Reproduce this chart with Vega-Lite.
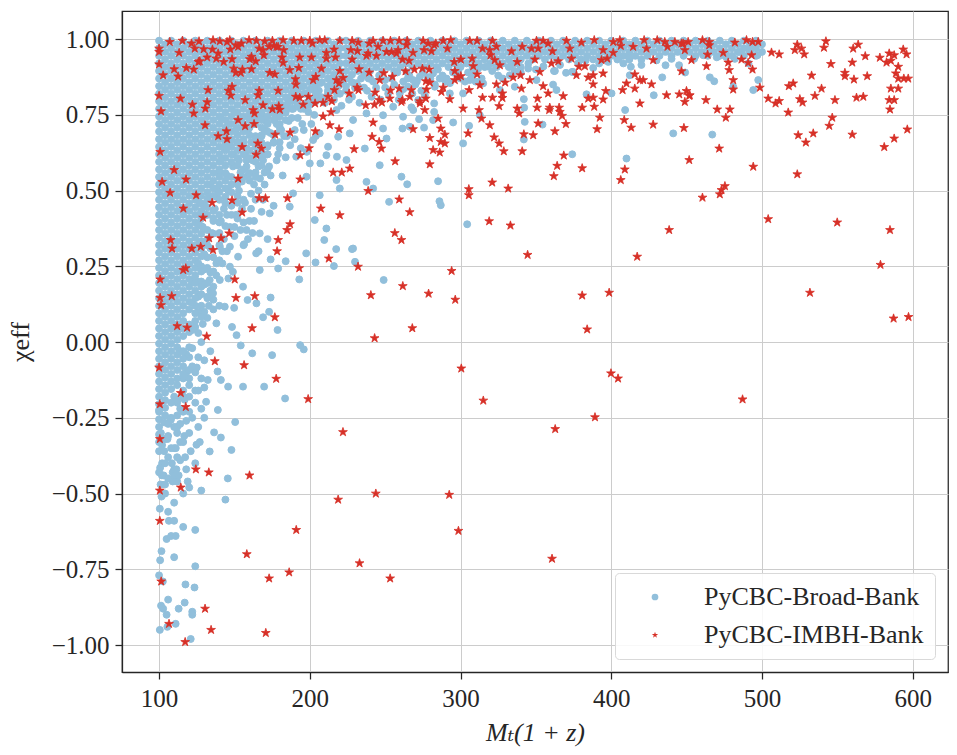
{
  "$schema": "https://vega.github.io/schema/vega-lite/v6.json",
  "width": 826,
  "height": 661,
  "autosize": "none",
  "padding": {"left": 122, "top": 11, "right": 9, "bottom": 83},
  "background": "white",
  "config": {
    "font": "Liberation Serif, DejaVu Serif, serif",
    "view": {"stroke": "#262626", "strokeWidth": 1.25},
    "axis": {
      "grid": true,
      "gridColor": "#cccccc",
      "gridWidth": 1,
      "domainColor": "#262626",
      "domainWidth": 1.25,
      "tickColor": "#262626",
      "tickWidth": 1.25,
      "tickSize": 7,
      "labelFont": "Liberation Serif, DejaVu Serif, serif",
      "labelFontSize": 25,
      "labelColor": "#262626",
      "titleFont": "Liberation Serif, DejaVu Serif, serif",
      "titleFontSize": 26,
      "titleFontWeight": "normal",
      "titleColor": "#262626"
    }
  },
  "datasets": {
    "broad": [
{"x":100,"y":0.995},{"x":100,"y":0.97},{"x":100,"y":0.945},{"x":100,"y":0.92},{"x":100,"y":0.895},{"x":100,"y":0.87},{"x":100,"y":0.845},{"x":100,"y":0.82},{"x":100,"y":0.795},{"x":100,"y":0.77},{"x":100,"y":0.745},{"x":100,"y":0.72},{"x":100,"y":0.695},{"x":100,"y":0.67},{"x":100,"y":0.645},{"x":100,"y":0.62},{"x":100,"y":0.595},{"x":100,"y":0.57},{"x":100,"y":0.545},{"x":100,"y":0.52},{"x":100,"y":0.495},{"x":100,"y":0.47},{"x":100,"y":0.445},{"x":100,"y":0.42},{"x":100,"y":0.395},{"x":100,"y":0.37},{"x":100,"y":0.345},{"x":100,"y":0.32},{"x":100,"y":0.295},{"x":100,"y":0.27},{"x":100,"y":0.245},{"x":100,"y":0.22},{"x":100,"y":0.195},{"x":100,"y":0.17},{"x":100,"y":0.145},{"x":100,"y":0.12},{"x":100,"y":0.095},{"x":100,"y":0.07},{"x":100,"y":0.045},{"x":100,"y":0.02},{"x":100,"y":-0.005},{"x":100,"y":-0.03},{"x":100,"y":-0.055},{"x":100,"y":-0.08},{"x":100,"y":-0.105},{"x":100,"y":-0.13},{"x":100,"y":-0.155},{"x":100,"y":-0.18},{"x":100,"y":-0.205},{"x":100,"y":-0.23},{"x":100,"y":-0.255},{"x":100,"y":-0.28},{"x":100,"y":-0.305},{"x":100,"y":-0.33},
{"x":104,"y":0.983},{"x":104,"y":0.958},{"x":104,"y":0.933},{"x":104,"y":0.908},{"x":104,"y":0.883},{"x":104,"y":0.858},{"x":104,"y":0.833},{"x":104,"y":0.808},{"x":104,"y":0.783},{"x":104,"y":0.758},{"x":104,"y":0.733},{"x":104,"y":0.708},{"x":104,"y":0.683},{"x":104,"y":0.658},{"x":104,"y":0.633},{"x":104,"y":0.608},{"x":104,"y":0.583},{"x":104,"y":0.558},{"x":104,"y":0.533},{"x":104,"y":0.508},{"x":104,"y":0.483},{"x":104,"y":0.458},{"x":104,"y":0.433},{"x":104,"y":0.408},{"x":104,"y":0.383},{"x":104,"y":0.358},{"x":104,"y":0.333},{"x":104,"y":0.308},{"x":104,"y":0.283},{"x":104,"y":0.258},{"x":104,"y":0.233},{"x":104,"y":0.208},{"x":104,"y":0.183},{"x":104,"y":0.158},{"x":104,"y":0.133},{"x":104,"y":0.108},{"x":104,"y":0.083},{"x":104,"y":0.058},{"x":104,"y":0.033},{"x":104,"y":0.008},{"x":104,"y":-0.017},{"x":104,"y":-0.042},{"x":104,"y":-0.067},{"x":104,"y":-0.092},{"x":104,"y":-0.117},{"x":104,"y":-0.142},{"x":104,"y":-0.167},{"x":104,"y":-0.192},{"x":104,"y":-0.217},{"x":104,"y":-0.242},
{"x":108,"y":0.995},{"x":108,"y":0.97},{"x":108,"y":0.945},{"x":108,"y":0.92},{"x":108,"y":0.895},{"x":108,"y":0.87},{"x":108,"y":0.845},{"x":108,"y":0.82},{"x":108,"y":0.795},{"x":108,"y":0.77},{"x":108,"y":0.745},{"x":108,"y":0.72},{"x":108,"y":0.695},{"x":108,"y":0.67},{"x":108,"y":0.645},{"x":108,"y":0.62},{"x":108,"y":0.595},{"x":108,"y":0.57},{"x":108,"y":0.545},{"x":108,"y":0.52},{"x":108,"y":0.495},{"x":108,"y":0.47},{"x":108,"y":0.445},{"x":108,"y":0.42},{"x":108,"y":0.395},{"x":108,"y":0.37},{"x":108,"y":0.345},{"x":108,"y":0.32},{"x":108,"y":0.295},{"x":108,"y":0.27},{"x":108,"y":0.245},{"x":108,"y":0.22},{"x":108,"y":0.195},{"x":108,"y":0.17},{"x":108,"y":0.145},{"x":108,"y":0.12},{"x":108,"y":0.095},{"x":108,"y":0.07},{"x":108,"y":0.045},{"x":108,"y":0.02},{"x":108,"y":-0.005},{"x":108,"y":-0.03},{"x":108,"y":-0.055},{"x":108,"y":-0.08},{"x":108,"y":-0.105},{"x":108,"y":-0.13},{"x":108,"y":-0.155},
{"x":112,"y":0.983},{"x":112,"y":0.958},{"x":112,"y":0.933},{"x":112,"y":0.908},{"x":112,"y":0.883},{"x":112,"y":0.858},{"x":112,"y":0.833},{"x":112,"y":0.808},{"x":112,"y":0.783},{"x":112,"y":0.758},{"x":112,"y":0.733},{"x":112,"y":0.708},{"x":112,"y":0.683},{"x":112,"y":0.658},{"x":112,"y":0.633},{"x":112,"y":0.608},{"x":112,"y":0.583},{"x":112,"y":0.558},{"x":112,"y":0.533},{"x":112,"y":0.508},{"x":112,"y":0.483},{"x":112,"y":0.458},{"x":112,"y":0.433},{"x":112,"y":0.408},{"x":112,"y":0.383},{"x":112,"y":0.358},{"x":112,"y":0.333},{"x":112,"y":0.308},{"x":112,"y":0.283},{"x":112,"y":0.258},{"x":112,"y":0.233},{"x":112,"y":0.208},{"x":112,"y":0.183},{"x":112,"y":0.158},{"x":112,"y":0.133},{"x":112,"y":0.108},{"x":112,"y":0.083},{"x":112,"y":0.058},{"x":112,"y":0.033},{"x":112,"y":0.008},{"x":112,"y":-0.017},{"x":112,"y":-0.042},{"x":112,"y":-0.067},
{"x":116,"y":0.995},{"x":116,"y":0.97},{"x":116,"y":0.945},{"x":116,"y":0.92},{"x":116,"y":0.895},{"x":116,"y":0.87},{"x":116,"y":0.845},{"x":116,"y":0.82},{"x":116,"y":0.795},{"x":116,"y":0.77},{"x":116,"y":0.745},{"x":116,"y":0.72},{"x":116,"y":0.695},{"x":116,"y":0.67},{"x":116,"y":0.645},{"x":116,"y":0.62},{"x":116,"y":0.595},{"x":116,"y":0.57},{"x":116,"y":0.545},{"x":116,"y":0.52},{"x":116,"y":0.495},{"x":116,"y":0.47},{"x":116,"y":0.445},{"x":116,"y":0.42},{"x":116,"y":0.395},{"x":116,"y":0.37},{"x":116,"y":0.345},{"x":116,"y":0.32},{"x":116,"y":0.295},{"x":116,"y":0.27},{"x":116,"y":0.245},{"x":116,"y":0.22},{"x":116,"y":0.195},{"x":116,"y":0.17},{"x":116,"y":0.145},{"x":116,"y":0.12},{"x":116,"y":0.095},{"x":116,"y":0.07},{"x":116,"y":0.045},{"x":116,"y":0.02},
{"x":120,"y":0.983},{"x":120,"y":0.958},{"x":120,"y":0.933},{"x":120,"y":0.908},{"x":120,"y":0.883},{"x":120,"y":0.858},{"x":120,"y":0.833},{"x":120,"y":0.808},{"x":120,"y":0.783},{"x":120,"y":0.758},{"x":120,"y":0.733},{"x":120,"y":0.708},{"x":120,"y":0.683},{"x":120,"y":0.658},{"x":120,"y":0.633},{"x":120,"y":0.608},{"x":120,"y":0.583},{"x":120,"y":0.558},{"x":120,"y":0.533},{"x":120,"y":0.508},{"x":120,"y":0.483},{"x":120,"y":0.458},{"x":120,"y":0.433},{"x":120,"y":0.408},{"x":120,"y":0.383},{"x":120,"y":0.358},{"x":120,"y":0.333},{"x":120,"y":0.308},{"x":120,"y":0.283},{"x":120,"y":0.258},{"x":120,"y":0.233},{"x":120,"y":0.208},{"x":120,"y":0.183},{"x":120,"y":0.158},{"x":120,"y":0.133},{"x":120,"y":0.108},
{"x":124,"y":0.995},{"x":124,"y":0.97},{"x":124,"y":0.945},{"x":124,"y":0.92},{"x":124,"y":0.895},{"x":124,"y":0.87},{"x":124,"y":0.845},{"x":124,"y":0.82},{"x":124,"y":0.795},{"x":124,"y":0.77},{"x":124,"y":0.745},{"x":124,"y":0.72},{"x":124,"y":0.695},{"x":124,"y":0.67},{"x":124,"y":0.645},{"x":124,"y":0.62},{"x":124,"y":0.595},{"x":124,"y":0.57},{"x":124,"y":0.545},{"x":124,"y":0.52},{"x":124,"y":0.495},{"x":124,"y":0.47},{"x":124,"y":0.445},{"x":124,"y":0.42},{"x":124,"y":0.395},{"x":124,"y":0.37},{"x":124,"y":0.345},{"x":124,"y":0.32},{"x":124,"y":0.295},{"x":124,"y":0.27},{"x":124,"y":0.245},{"x":124,"y":0.22},
{"x":128,"y":0.983},{"x":128,"y":0.958},{"x":128,"y":0.933},{"x":128,"y":0.908},{"x":128,"y":0.883},{"x":128,"y":0.858},{"x":128,"y":0.833},{"x":128,"y":0.808},{"x":128,"y":0.783},{"x":128,"y":0.758},{"x":128,"y":0.733},{"x":128,"y":0.708},{"x":128,"y":0.683},{"x":128,"y":0.658},{"x":128,"y":0.633},{"x":128,"y":0.608},{"x":128,"y":0.583},{"x":128,"y":0.558},{"x":128,"y":0.533},{"x":128,"y":0.508},{"x":128,"y":0.483},{"x":128,"y":0.458},{"x":128,"y":0.433},{"x":128,"y":0.408},{"x":128,"y":0.383},{"x":128,"y":0.358},
{"x":132,"y":0.995},{"x":132,"y":0.97},{"x":132,"y":0.945},{"x":132,"y":0.92},{"x":132,"y":0.895},{"x":132,"y":0.87},{"x":132,"y":0.845},{"x":132,"y":0.82},{"x":132,"y":0.795},{"x":132,"y":0.77},{"x":132,"y":0.745},{"x":132,"y":0.72},{"x":132,"y":0.695},{"x":132,"y":0.67},{"x":132,"y":0.645},{"x":132,"y":0.62},{"x":132,"y":0.595},{"x":132,"y":0.57},{"x":132,"y":0.545},{"x":132,"y":0.52},{"x":132,"y":0.495},{"x":132,"y":0.47},
{"x":136,"y":0.983},{"x":136,"y":0.958},{"x":136,"y":0.933},{"x":136,"y":0.908},{"x":136,"y":0.883},{"x":136,"y":0.858},{"x":136,"y":0.833},{"x":136,"y":0.808},{"x":136,"y":0.783},{"x":136,"y":0.758},{"x":136,"y":0.733},{"x":136,"y":0.708},{"x":136,"y":0.683},{"x":136,"y":0.658},{"x":136,"y":0.633},{"x":136,"y":0.608},{"x":136,"y":0.583},{"x":136,"y":0.558},{"x":136,"y":0.533},
{"x":140,"y":0.995},{"x":140,"y":0.97},{"x":140,"y":0.945},{"x":140,"y":0.92},{"x":140,"y":0.895},{"x":140,"y":0.87},{"x":140,"y":0.845},{"x":140,"y":0.82},{"x":140,"y":0.795},{"x":140,"y":0.77},{"x":140,"y":0.745},{"x":140,"y":0.72},{"x":140,"y":0.695},{"x":140,"y":0.67},{"x":140,"y":0.645},{"x":140,"y":0.62},{"x":140,"y":0.595},{"x":140,"y":0.57},
{"x":144,"y":0.983},{"x":144,"y":0.958},{"x":144,"y":0.933},{"x":144,"y":0.908},{"x":144,"y":0.883},{"x":144,"y":0.858},{"x":144,"y":0.833},{"x":144,"y":0.808},{"x":144,"y":0.783},{"x":144,"y":0.758},{"x":144,"y":0.733},{"x":144,"y":0.708},{"x":144,"y":0.683},{"x":144,"y":0.658},{"x":144,"y":0.633},{"x":144,"y":0.608},
{"x":148,"y":0.995},{"x":148,"y":0.97},{"x":148,"y":0.945},{"x":148,"y":0.92},{"x":148,"y":0.895},{"x":148,"y":0.87},{"x":148,"y":0.845},{"x":148,"y":0.82},{"x":148,"y":0.795},{"x":148,"y":0.77},{"x":148,"y":0.745},{"x":148,"y":0.72},{"x":148,"y":0.695},{"x":148,"y":0.67},{"x":148,"y":0.645},
{"x":152,"y":0.983},{"x":152,"y":0.958},{"x":152,"y":0.933},{"x":152,"y":0.908},{"x":152,"y":0.883},{"x":152,"y":0.858},{"x":152,"y":0.833},{"x":152,"y":0.808},{"x":152,"y":0.783},{"x":152,"y":0.758},{"x":152,"y":0.733},{"x":152,"y":0.708},{"x":152,"y":0.683},
{"x":156,"y":0.995},{"x":156,"y":0.97},{"x":156,"y":0.945},{"x":156,"y":0.92},{"x":156,"y":0.895},{"x":156,"y":0.87},{"x":156,"y":0.845},{"x":156,"y":0.82},{"x":156,"y":0.795},{"x":156,"y":0.77},{"x":156,"y":0.745},{"x":156,"y":0.72},
{"x":160,"y":0.983},{"x":160,"y":0.958},{"x":160,"y":0.933},{"x":160,"y":0.908},{"x":160,"y":0.883},{"x":160,"y":0.858},{"x":160,"y":0.833},{"x":160,"y":0.808},{"x":160,"y":0.783},{"x":160,"y":0.758},
{"x":164,"y":0.995},{"x":164,"y":0.97},{"x":164,"y":0.945},{"x":164,"y":0.92},{"x":164,"y":0.895},{"x":164,"y":0.87},{"x":164,"y":0.845},{"x":164,"y":0.82},{"x":164,"y":0.795},{"x":164,"y":0.77},
{"x":168,"y":0.983},{"x":168,"y":0.958},{"x":168,"y":0.933},{"x":168,"y":0.908},{"x":168,"y":0.883},{"x":168,"y":0.858},{"x":168,"y":0.833},{"x":168,"y":0.808},{"x":168,"y":0.783},
{"x":172,"y":0.995},{"x":172,"y":0.97},{"x":172,"y":0.945},{"x":172,"y":0.92},{"x":172,"y":0.895},{"x":172,"y":0.87},{"x":172,"y":0.845},{"x":172,"y":0.82},{"x":172,"y":0.795},
{"x":176,"y":0.983},{"x":176,"y":0.958},{"x":176,"y":0.933},{"x":176,"y":0.908},{"x":176,"y":0.883},{"x":176,"y":0.858},{"x":176,"y":0.833},{"x":176,"y":0.808},
{"x":180,"y":0.995},{"x":180,"y":0.97},{"x":180,"y":0.945},{"x":180,"y":0.92},{"x":180,"y":0.895},{"x":180,"y":0.87},{"x":180,"y":0.845},{"x":180,"y":0.82},
{"x":184,"y":0.983},{"x":184,"y":0.958},{"x":184,"y":0.933},{"x":184,"y":0.908},{"x":184,"y":0.883},{"x":184,"y":0.858},{"x":184,"y":0.833},
{"x":188,"y":0.995},{"x":188,"y":0.97},{"x":188,"y":0.945},{"x":188,"y":0.92},{"x":188,"y":0.895},{"x":188,"y":0.87},{"x":188,"y":0.845},
{"x":192,"y":0.983},{"x":192,"y":0.958},{"x":192,"y":0.933},{"x":192,"y":0.908},{"x":192,"y":0.883},{"x":192,"y":0.858},
{"x":196,"y":0.995},{"x":196,"y":0.97},{"x":196,"y":0.945},{"x":196,"y":0.92},{"x":196,"y":0.895},{"x":196,"y":0.87},
{"x":200,"y":0.983},{"x":200,"y":0.958},{"x":200,"y":0.933},{"x":200,"y":0.908},{"x":200,"y":0.883},{"x":200,"y":0.858},
{"x":204,"y":0.995},{"x":204,"y":0.97},{"x":204,"y":0.945},{"x":204,"y":0.92},{"x":204,"y":0.895},{"x":204,"y":0.87},
{"x":208,"y":0.983},{"x":208,"y":0.958},{"x":208,"y":0.933},{"x":208,"y":0.908},{"x":208,"y":0.883},
{"x":212,"y":0.995},{"x":212,"y":0.97},{"x":212,"y":0.945},{"x":212,"y":0.92},{"x":212,"y":0.895},
{"x":216,"y":0.983},{"x":216,"y":0.958},{"x":216,"y":0.933},{"x":216,"y":0.908},{"x":216,"y":0.883},
{"x":220,"y":0.995},{"x":220,"y":0.97},{"x":220,"y":0.945},{"x":220,"y":0.92},{"x":220,"y":0.895},
{"x":224,"y":0.995},{"x":224,"y":0.97},{"x":224,"y":0.945},{"x":224,"y":0.92},
{"x":228,"y":0.983},{"x":228,"y":0.958},{"x":228,"y":0.933},{"x":228,"y":0.908},
{"x":232,"y":0.995},{"x":232,"y":0.97},{"x":232,"y":0.945},{"x":232,"y":0.92},
{"x":236,"y":0.983},{"x":236,"y":0.958},{"x":236,"y":0.933},{"x":236,"y":0.908},
{"x":240,"y":0.995},{"x":240,"y":0.97},{"x":240,"y":0.945},{"x":240,"y":0.92},
{"x":244,"y":0.983},{"x":244,"y":0.958},{"x":244,"y":0.933},{"x":244,"y":0.908},
{"x":248,"y":0.995},{"x":248,"y":0.97},{"x":248,"y":0.945},{"x":248,"y":0.92},
{"x":252,"y":0.983},{"x":252,"y":0.958},{"x":252,"y":0.933},{"x":252,"y":0.908},
{"x":256,"y":0.995},{"x":256,"y":0.97},{"x":256,"y":0.945},{"x":256,"y":0.92},
{"x":260,"y":0.983},{"x":260,"y":0.958},{"x":260,"y":0.933},{"x":260,"y":0.908},
{"x":264,"y":0.995},{"x":264,"y":0.97},{"x":264,"y":0.945},{"x":264,"y":0.92},
{"x":268,"y":0.983},{"x":268,"y":0.958},{"x":268,"y":0.933},{"x":268,"y":0.908},
{"x":272,"y":0.995},{"x":272,"y":0.97},{"x":272,"y":0.945},{"x":272,"y":0.92},
{"x":276,"y":0.983},{"x":276,"y":0.958},{"x":276,"y":0.933},{"x":276,"y":0.908},
{"x":280,"y":0.995},{"x":280,"y":0.97},{"x":280,"y":0.945},{"x":280,"y":0.92},
{"x":284,"y":0.983},{"x":284,"y":0.958},{"x":284,"y":0.933},{"x":284,"y":0.908},
{"x":288,"y":0.995},{"x":288,"y":0.97},{"x":288,"y":0.945},{"x":288,"y":0.92},
{"x":292,"y":0.983},{"x":292,"y":0.958},{"x":292,"y":0.933},{"x":292,"y":0.908},
{"x":296,"y":0.995},{"x":296,"y":0.97},{"x":296,"y":0.945},{"x":296,"y":0.92},
{"x":300,"y":0.983},{"x":300,"y":0.958},{"x":300,"y":0.933},{"x":300,"y":0.908},
{"x":304,"y":0.995},{"x":304,"y":0.97},{"x":304,"y":0.945},{"x":304,"y":0.92},
{"x":308,"y":0.983},{"x":308,"y":0.958},{"x":308,"y":0.933},{"x":308,"y":0.908},
{"x":312,"y":0.995},{"x":312,"y":0.97},{"x":312,"y":0.945},{"x":312,"y":0.92},
{"x":316,"y":0.983},{"x":316,"y":0.958},{"x":316,"y":0.933},{"x":316,"y":0.908},
{"x":320,"y":0.995},{"x":320,"y":0.97},{"x":320,"y":0.945},{"x":320,"y":0.92},
{"x":324,"y":0.983},{"x":324,"y":0.958},{"x":324,"y":0.933},{"x":324,"y":0.908},
{"x":328,"y":0.995},{"x":328,"y":0.97},{"x":328,"y":0.945},{"x":328,"y":0.92},
{"x":332,"y":0.983},{"x":332,"y":0.958},{"x":332,"y":0.933},{"x":332,"y":0.908},
{"x":336,"y":0.995},{"x":336,"y":0.97},{"x":336,"y":0.945},{"x":336,"y":0.92},
{"x":340,"y":0.983},{"x":340,"y":0.958},{"x":340,"y":0.933},{"x":340,"y":0.908},
{"x":344,"y":0.995},{"x":344,"y":0.97},{"x":344,"y":0.945},
{"x":348,"y":0.983},{"x":348,"y":0.958},{"x":348,"y":0.933},
{"x":352,"y":0.995},{"x":352,"y":0.97},{"x":352,"y":0.945},
{"x":356,"y":0.983},{"x":356,"y":0.958},{"x":356,"y":0.933},
{"x":360,"y":0.995},{"x":360,"y":0.97},{"x":360,"y":0.945},
{"x":364,"y":0.983},{"x":364,"y":0.958},{"x":364,"y":0.933},
{"x":368,"y":0.995},{"x":368,"y":0.97},{"x":368,"y":0.945},
{"x":372,"y":0.983},{"x":372,"y":0.958},{"x":372,"y":0.933},
{"x":376,"y":0.995},{"x":376,"y":0.97},{"x":376,"y":0.945},
{"x":380,"y":0.983},{"x":380,"y":0.958},{"x":380,"y":0.933},
{"x":384,"y":0.995},{"x":384,"y":0.97},{"x":384,"y":0.945},
{"x":388,"y":0.983},{"x":388,"y":0.958},{"x":388,"y":0.933},
{"x":392,"y":0.995},{"x":392,"y":0.97},{"x":392,"y":0.945},
{"x":396,"y":0.983},{"x":396,"y":0.958},{"x":396,"y":0.933},
{"x":400,"y":0.995},{"x":400,"y":0.97},{"x":400,"y":0.945},
{"x":404,"y":0.983},{"x":404,"y":0.958},{"x":404,"y":0.933},
{"x":408,"y":0.995},{"x":408,"y":0.97},{"x":408,"y":0.945},
{"x":412,"y":0.983},{"x":412,"y":0.958},{"x":412,"y":0.933},
{"x":416,"y":0.995},{"x":416,"y":0.97},{"x":416,"y":0.945},
{"x":420,"y":0.983},{"x":420,"y":0.958},{"x":420,"y":0.933},
{"x":424,"y":0.995},{"x":424,"y":0.97},{"x":424,"y":0.945},
{"x":428,"y":0.983},{"x":428,"y":0.958},
{"x":432,"y":0.995},{"x":432,"y":0.97},{"x":432,"y":0.945},
{"x":436,"y":0.983},{"x":436,"y":0.958},
{"x":440,"y":0.995},{"x":440,"y":0.97},{"x":440,"y":0.945},
{"x":444,"y":0.983},{"x":444,"y":0.958},
{"x":448,"y":0.995},{"x":448,"y":0.97},{"x":448,"y":0.945},
{"x":452,"y":0.983},{"x":452,"y":0.958},
{"x":456,"y":0.995},{"x":456,"y":0.97},{"x":456,"y":0.945},
{"x":460,"y":0.983},{"x":460,"y":0.958},
{"x":464,"y":0.995},{"x":464,"y":0.97},{"x":464,"y":0.945},
{"x":468,"y":0.983},{"x":468,"y":0.958},
{"x":472,"y":0.995},{"x":472,"y":0.97},{"x":472,"y":0.945},
{"x":476,"y":0.983},{"x":476,"y":0.958},
{"x":480,"y":0.995},{"x":480,"y":0.97},{"x":480,"y":0.945},
{"x":484,"y":0.983},{"x":484,"y":0.958},
{"x":488,"y":0.995},{"x":488,"y":0.97},{"x":488,"y":0.945},
{"x":492,"y":0.983},{"x":492,"y":0.958},
{"x":496,"y":0.995},{"x":496,"y":0.97},{"x":496,"y":0.945},
{"x":500,"y":0.983},{"x":500,"y":0.958},
{"x":152,"y":0.66},{"x":156,"y":0.7},{"x":158,"y":0.64},{"x":162,"y":0.72},{"x":164,"y":0.68},{"x":167,"y":0.74},{"x":170,"y":0.7},{"x":172,"y":0.65},{"x":175,"y":0.76},{"x":178,"y":0.72},{"x":181,"y":0.7},{"x":185,"y":0.78},{"x":188,"y":0.74},{"x":190,"y":0.8},{"x":194,"y":0.77},{"x":197,"y":0.82},{"x":200,"y":0.8},{"x":203,"y":0.75},{"x":206,"y":0.83},{"x":210,"y":0.79},{"x":214,"y":0.85},{"x":218,"y":0.82},{"x":222,"y":0.86},{"x":226,"y":0.8},{"x":230,"y":0.84},{"x":234,"y":0.87},{"x":238,"y":0.83},{"x":242,"y":0.86},{"x":246,"y":0.88},{"x":250,"y":0.84},{"x":254,"y":0.87},{"x":258,"y":0.89},{"x":262,"y":0.86},{"x":266,"y":0.88},{"x":270,"y":0.85},{"x":275,"y":0.89},{"x":280,"y":0.87},{"x":285,"y":0.9},{"x":290,"y":0.86},{"x":295,"y":0.89},{"x":300,"y":0.87},{"x":305,"y":0.89},{"x":310,"y":0.86},{"x":318,"y":0.91},{"x":325,"y":0.88},{"x":333,"y":0.91},{"x":340,"y":0.89},{"x":350,"y":0.9},{"x":362,"y":0.895},{"x":370,"y":0.889},{"x":374,"y":0.892},{"x":383,"y":0.93},{"x":392,"y":0.92},{"x":405,"y":0.936},{"x":412,"y":0.939},{"x":413,"y":0.909},{"x":436,"y":0.914},{"x":445,"y":0.914},{"x":449,"y":0.89},{"x":461,"y":0.947},{"x":476,"y":0.942},{"x":485,"y":0.958},{"x":492,"y":0.964},{"x":497,"y":0.947},{"x":491,"y":0.92},
{"x":130,"y":0.45},{"x":134,"y":0.52},{"x":138,"y":0.48},{"x":140,"y":0.56},{"x":143,"y":0.44},{"x":146,"y":0.5},{"x":149,"y":0.58},{"x":152,"y":0.46},{"x":155,"y":0.53},{"x":158,"y":0.6},{"x":161,"y":0.49},{"x":164,"y":0.56},{"x":167,"y":0.62},{"x":170,"y":0.52},{"x":173,"y":0.58},{"x":176,"y":0.45},{"x":179,"y":0.62},{"x":182,"y":0.55},{"x":136,"y":0.4},{"x":140,"y":0.36},{"x":145,"y":0.42},{"x":150,"y":0.38},{"x":155,"y":0.44},{"x":160,"y":0.4},{"x":164,"y":0.47},{"x":168,"y":0.43},{"x":132,"y":0.34},{"x":136,"y":0.28},{"x":140,"y":0.32},{"x":145,"y":0.3},{"x":150,"y":0.35},{"x":156,"y":0.32},{"x":162,"y":0.36},{"x":166,"y":0.3},{"x":172,"y":0.34},{"x":126,"y":0.2},{"x":130,"y":0.24},{"x":134,"y":0.17},{"x":138,"y":0.22},{"x":142,"y":0.26},{"x":146,"y":0.21},{"x":128,"y":0.12},{"x":132,"y":0.08},{"x":136,"y":0.14},{"x":124,"y":0.05},{"x":128,"y":0.0},{"x":120,"y":-0.05},{"x":124,"y":-0.1},{"x":130,"y":-0.06},{"x":116,"y":-0.12},{"x":120,"y":-0.18},{"x":114,"y":-0.22},{"x":118,"y":-0.26},{"x":112,"y":-0.3},{"x":108,"y":-0.25},{"x":104,"y":-0.32},{"x":110,"y":-0.35},{"x":116,"y":-0.33},{"x":106,"y":-0.38},{"x":102,"y":-0.4},{"x":100,"y":-0.36},{"x":124,"y":0.12},{"x":124,"y":0.17},{"x":128,"y":0.25},{"x":128,"y":0.2},{"x":132,"y":0.28},{"x":132,"y":0.15},{"x":130,"y":0.1},{"x":126,"y":0.03},
{"x":156.4,"y":0.323},{"x":164.4,"y":0.293},{"x":174,"y":0.273},{"x":184,"y":0.267},{"x":197.6,"y":0.293},{"x":203.8,"y":0.263},{"x":216,"y":0.251},{"x":217.5,"y":0.307},{"x":228,"y":0.307},{"x":230,"y":0.265},{"x":209.6,"y":0.337},{"x":179,"y":0.243},{"x":166.8,"y":0.238},{"x":193,"y":0.207},{"x":249,"y":0.205},{"x":174,"y":0.147},{"x":169,"y":0.082},{"x":178.6,"y":0.04},{"x":173,"y":0.1},{"x":193.6,"y":-0.01},{"x":196,"y":-0.024},{"x":175,"y":-0.043},{"x":161.8,"y":-0.037},{"x":154.2,"y":-0.011},{"x":149.8,"y":0.113},{"x":155.7,"y":-0.147},{"x":145.8,"y":-0.147},{"x":169.7,"y":-0.147},{"x":183.6,"y":-0.186},{"x":139,"y":-0.224},{"x":150.5,"y":-0.264},{"x":131.2,"y":-0.197},{"x":141,"y":-0.315},{"x":148,"y":-0.356},{"x":136.5,"y":-0.298},{"x":124.8,"y":-0.339},{"x":133.6,"y":-0.361},{"x":145.6,"y":-0.45},{"x":138.8,"y":-0.097},{"x":141,"y":-0.125},{"x":132.3,"y":-0.125},{"x":125,"y":-0.084},{"x":148.4,"y":0.05},{"x":151.4,"y":0.023},{"x":140.3,"y":0.315},{"x":147,"y":0.315},{"x":152.4,"y":0.282},{"x":147,"y":0.249},{"x":149,"y":0.232},{"x":155.7,"y":0.183},{"x":158.7,"y":0.139},{"x":164.6,"y":0.128},{"x":143.6,"y":0.117},{"x":138,"y":0.062},{"x":135.8,"y":0.161},{"x":140.3,"y":0.205},{"x":133.6,"y":0.205},
{"x":100,"y":-0.224},{"x":103.4,"y":-0.265},{"x":107.8,"y":-0.257},{"x":112,"y":-0.28},{"x":101.2,"y":-0.3},{"x":105.6,"y":-0.32},{"x":111.1,"y":-0.35},{"x":116.7,"y":-0.31},{"x":103.4,"y":-0.36},{"x":100.7,"y":-0.415},{"x":108.5,"y":-0.4},{"x":114,"y":-0.39},{"x":117.3,"y":-0.38},{"x":101.9,"y":-0.44},{"x":109.6,"y":-0.45},{"x":119,"y":-0.46},{"x":120,"y":-0.12},{"x":124,"y":-0.16},{"x":128,"y":-0.22},{"x":122,"y":-0.25},{"x":126,"y":-0.28},{"x":120,"y":-0.3},{"x":112,"y":-0.12},{"x":116,"y":-0.08},
{"x":100,"y":-0.43},{"x":101,"y":-0.47},{"x":103,"y":-0.44},{"x":109,"y":-0.43},{"x":111.5,"y":-0.42},{"x":109,"y":-0.46},{"x":112,"y":-0.46},{"x":120,"y":-0.48},{"x":128,"y":-0.49},{"x":101.6,"y":-0.51},{"x":104,"y":-0.5},{"x":110,"y":-0.53},{"x":100.5,"y":-0.55},{"x":106,"y":-0.56},{"x":144,"y":-0.52},{"x":106.5,"y":-0.59},{"x":110,"y":-0.59},{"x":116,"y":-0.61},{"x":124,"y":-0.62},{"x":105,"y":-0.65},{"x":108,"y":-0.64},{"x":111,"y":-0.64},{"x":101.6,"y":-0.69},{"x":100.7,"y":-0.72},{"x":110,"y":-0.71},{"x":124,"y":-0.74},{"x":100,"y":-0.77},{"x":102.5,"y":-0.79},{"x":117.5,"y":-0.8},{"x":123.5,"y":-0.81},{"x":106,"y":-0.85},{"x":101.3,"y":-0.87},{"x":102.7,"y":-0.88},{"x":117,"y":-0.86},{"x":113,"y":-0.88},{"x":122,"y":-0.89},{"x":122,"y":-0.9},{"x":105,"y":-0.9},{"x":111,"y":-0.93},{"x":105.5,"y":-0.94},{"x":100.5,"y":-0.95},{"x":121,"y":-0.98},
{"x":261.5,"y":0.705},{"x":266.3,"y":0.711},{"x":275.8,"y":0.708},{"x":282.5,"y":0.788},{"x":282.5,"y":0.76},{"x":281.8,"y":0.733},{"x":272.5,"y":0.736},{"x":267.4,"y":0.775},{"x":295.1,"y":0.725},{"x":305.7,"y":0.714},{"x":301.7,"y":0.656},{"x":312.8,"y":0.749},{"x":342.6,"y":0.727},{"x":342,"y":0.669},{"x":342,"y":0.802},{"x":342.2,"y":0.774},{"x":354.4,"y":0.718},{"x":374.1,"y":0.62},{"x":362.6,"y":0.895},{"x":361.4,"y":0.85},{"x":363.7,"y":0.832},{"x":383.6,"y":0.818},{"x":400.2,"y":0.821},{"x":412.3,"y":0.881},{"x":409.2,"y":0.766},{"x":410.1,"y":0.606},{"x":428.2,"y":0.815},{"x":433.8,"y":0.874},{"x":441.1,"y":0.689},{"x":260.8,"y":0.546},{"x":264.6,"y":0.521},{"x":285.1,"y":0.531},{"x":286.9,"y":0.452},{"x":286,"y":0.465},{"x":304.4,"y":0.389},{"x":264.1,"y":0.892},{"x":268.5,"y":0.865},{"x":273,"y":0.876},{"x":265.2,"y":0.843},{"x":259.7,"y":0.821},{"x":271.9,"y":0.799},{"x":276.3,"y":0.815},{"x":282.9,"y":0.843},{"x":286.2,"y":0.87},{"x":290.7,"y":0.87},{"x":292.9,"y":0.821},{"x":301.7,"y":0.821},{"x":306.1,"y":0.865},{"x":307.3,"y":0.881},{"x":311.7,"y":0.903},{"x":332.7,"y":0.881},{"x":336,"y":0.843},{"x":344.9,"y":0.903},{"x":350.4,"y":0.865},{"x":315,"y":0.854},{"x":326.1,"y":0.832},{"x":298.4,"y":0.898},{"x":281.8,"y":0.887},{"x":374.7,"y":0.892},{"x":465.4,"y":0.874},{"x":468.3,"y":0.861},{"x":480.9,"y":0.843},{"x":494.2,"y":0.832},{"x":497.5,"y":0.865},{"x":467,"y":0.685},
{"x":191,"y":0.612},{"x":198,"y":0.628},{"x":200,"y":0.59},{"x":207,"y":0.59},{"x":211,"y":0.617},{"x":218,"y":0.612},{"x":226.5,"y":0.689},{"x":236.5,"y":0.639},{"x":237.6,"y":0.529},{"x":242,"y":0.507},{"x":246.4,"y":0.584},{"x":252.6,"y":0.463},{"x":224.3,"y":0.601},{"x":217.7,"y":0.535},{"x":219.9,"y":0.507},{"x":206.6,"y":0.485},{"x":211,"y":0.375},{"x":203.3,"y":0.403},{"x":188.9,"y":0.491},{"x":186.7,"y":0.447},{"x":173.4,"y":0.425},{"x":166.8,"y":0.359},{"x":158,"y":0.37},{"x":228.7,"y":0.309},{"x":217.7,"y":0.766},{"x":228.7,"y":0.733},{"x":237.6,"y":0.755},{"x":248.6,"y":0.749},{"x":248.6,"y":0.705},{"x":255.3,"y":0.777},{"x":261.9,"y":0.744},{"x":268.6,"y":0.766},{"x":250.9,"y":0.672},{"x":218.8,"y":0.678},{"x":206.6,"y":0.689},{"x":202.2,"y":0.667},{"x":212.1,"y":0.645},{"x":197.8,"y":0.546},{"x":185,"y":0.68},{"x":190,"y":0.7},{"x":195,"y":0.72},{"x":180,"y":0.66},
{"x":141,"y":0.74},{"x":142,"y":0.69},{"x":143,"y":0.64},{"x":141,"y":0.6},{"x":145,"y":0.55},{"x":146,"y":0.72},{"x":147,"y":0.66},{"x":149,"y":0.62},{"x":150,"y":0.76},{"x":151,"y":0.7},{"x":153,"y":0.6},{"x":154,"y":0.56},{"x":155,"y":0.74},{"x":156,"y":0.66},{"x":157,"y":0.62},{"x":159,"y":0.7},{"x":159,"y":0.55},{"x":160,"y":0.74},{"x":161,"y":0.66},{"x":162,"y":0.6},{"x":163,"y":0.52},{"x":164,"y":0.72},{"x":165,"y":0.64},{"x":166,"y":0.58},{"x":168,"y":0.75},{"x":168,"y":0.68},{"x":169,"y":0.6},{"x":170,"y":0.56},{"x":171,"y":0.73},{"x":172,"y":0.62},{"x":174,"y":0.69},{"x":174,"y":0.55},{"x":176,"y":0.66},{"x":177,"y":0.74},{"x":178,"y":0.6},{"x":180,"y":0.71},{"x":180,"y":0.64},{"x":182,"y":0.76},{"x":183,"y":0.68},{"x":184,"y":0.61},{"x":186,"y":0.73},{"x":187,"y":0.65},{"x":189,"y":0.77},{"x":190,"y":0.67},{"x":192,"y":0.74},{"x":194,"y":0.64},{"x":196,"y":0.7},{"x":199,"y":0.76},{"x":201,"y":0.72},{"x":204,"y":0.68},{"x":145,"y":0.64},{"x":152,"y":0.52},{"x":158,"y":0.58},{"x":167,"y":0.54},
{"x":186,"y":0.8},{"x":189,"y":0.83},{"x":192,"y":0.79},{"x":195,"y":0.845},{"x":198,"y":0.79},{"x":201,"y":0.835},{"x":204,"y":0.81},{"x":207,"y":0.855},{"x":209,"y":0.8},{"x":212,"y":0.83},{"x":215,"y":0.87},{"x":216,"y":0.8},{"x":219,"y":0.845},{"x":221,"y":0.78},{"x":224,"y":0.83},{"x":226,"y":0.87},{"x":228,"y":0.81},{"x":231,"y":0.855},{"x":233,"y":0.79},{"x":236,"y":0.84},{"x":239,"y":0.87},{"x":241,"y":0.81},{"x":244,"y":0.84},{"x":247,"y":0.8},{"x":250,"y":0.865},{"x":252,"y":0.82},{"x":256,"y":0.85},{"x":259,"y":0.8},{"x":262,"y":0.835},{"x":265,"y":0.87},{"x":268,"y":0.82},{"x":271,"y":0.86},{"x":274,"y":0.83},{"x":278,"y":0.875},{"x":283,"y":0.85},{"x":288,"y":0.88},{"x":293,"y":0.855},{"x":298,"y":0.88},{"x":303,"y":0.86},{"x":309,"y":0.89},{"x":314,"y":0.87},{"x":321,"y":0.895},{"x":328,"y":0.87},{"x":336,"y":0.895},{"x":345,"y":0.92},{"x":355,"y":0.91},{"x":366,"y":0.915},{"x":378,"y":0.92},{"x":388,"y":0.905},{"x":398,"y":0.925},{"x":408,"y":0.92},{"x":420,"y":0.915},{"x":430,"y":0.93},{"x":440,"y":0.935},{"x":455,"y":0.935},{"x":470,"y":0.94},{"x":482,"y":0.935},
{"x":127,"y":0.46},{"x":129,"y":0.38},{"x":131,"y":0.42},{"x":133,"y":0.48},{"x":135,"y":0.36},{"x":137,"y":0.44},{"x":139,"y":0.5},{"x":141,"y":0.4},{"x":143,"y":0.34},{"x":144,"y":0.48},{"x":147,"y":0.38},{"x":148,"y":0.45},{"x":151,"y":0.42},{"x":153,"y":0.5},{"x":154,"y":0.37},{"x":157,"y":0.46},{"x":159,"y":0.34},{"x":161,"y":0.44},{"x":163,"y":0.4},{"x":166,"y":0.5},{"x":169,"y":0.47},{"x":127,"y":0.33},{"x":130,"y":0.29},{"x":134,"y":0.31},{"x":138,"y":0.26},{"x":142,"y":0.3},{"x":126,"y":0.39},{"x":128,"y":0.43},
{"x":102,"y":-0.34},{"x":106,"y":-0.31},{"x":104,"y":-0.4},{"x":108,"y":-0.35},{"x":112,"y":-0.38},{"x":114,"y":-0.33},{"x":110,"y":-0.42},{"x":106,"y":-0.45},{"x":113,"y":-0.44},{"x":118,"y":-0.42},{"x":121,"y":-0.36},{"x":124,"y":-0.4},{"x":127,"y":-0.33},{"x":104,"y":-0.47},{"x":116,"y":-0.5},
{"x":114,"y":-0.03},{"x":118,"y":-0.04},{"x":122,"y":-0.02},{"x":116,"y":-0.16},{"x":118,"y":-0.1},{"x":122,"y":-0.08},{"x":126,"y":-0.05},{"x":124,"y":-0.2},{"x":128,"y":-0.12},{"x":120,"y":-0.23},{"x":126,"y":-0.16},{"x":130,"y":-0.25},{"x":114,"y":-0.27},{"x":117,"y":-0.19},{"x":112,"y":-0.2},{"x":110,"y":-0.18},{"x":110,"y":-0.28},{"x":106,"y":-0.27},{"x":108,"y":-0.2},{"x":134,"y":-0.03},{"x":130,"y":-0.15},
{"x":122,"y":0.13},{"x":126,"y":0.1},{"x":122,"y":0.2},{"x":126,"y":0.26},{"x":130,"y":0.19},{"x":134,"y":0.23},{"x":126,"y":0.15},{"x":129,"y":0.06},{"x":133,"y":0.12},{"x":122,"y":0.04},
{"x":152,"y":0.658},{"x":152,"y":0.633},{"x":156,"y":0.695},{"x":156,"y":0.67},{"x":156,"y":0.645},{"x":160,"y":0.733},{"x":160,"y":0.708},{"x":160,"y":0.683},{"x":160,"y":0.633},{"x":164,"y":0.745},{"x":164,"y":0.72},{"x":164,"y":0.67},{"x":164,"y":0.645},{"x":168,"y":0.758},{"x":168,"y":0.733},{"x":168,"y":0.708},{"x":168,"y":0.683},{"x":168,"y":0.658},{"x":168,"y":0.633},{"x":172,"y":0.77},{"x":172,"y":0.745},{"x":172,"y":0.72},{"x":172,"y":0.695},{"x":172,"y":0.645},{"x":176,"y":0.783},{"x":176,"y":0.758},{"x":176,"y":0.733},{"x":176,"y":0.683},{"x":176,"y":0.658},{"x":180,"y":0.795},{"x":180,"y":0.77},{"x":180,"y":0.745},{"x":180,"y":0.72},{"x":180,"y":0.695},{"x":184,"y":0.808},{"x":184,"y":0.783},{"x":184,"y":0.758},{"x":184,"y":0.733},
{"x":140,"y":0.545},{"x":140,"y":0.52},{"x":144,"y":0.583},{"x":144,"y":0.558},{"x":144,"y":0.533},{"x":148,"y":0.62},{"x":148,"y":0.595},{"x":148,"y":0.545},{"x":148,"y":0.52},{"x":152,"y":0.608},{"x":152,"y":0.583},{"x":152,"y":0.533},{"x":156,"y":0.62},{"x":156,"y":0.57},{"x":156,"y":0.545},{"x":160,"y":0.608},{"x":160,"y":0.558},{"x":160,"y":0.533},{"x":164,"y":0.62},{"x":164,"y":0.595},{"x":164,"y":0.545},{"x":168,"y":0.608},{"x":168,"y":0.583},{"x":172,"y":0.62},{"x":172,"y":0.57},
{"x":188,"y":0.82},{"x":188,"y":0.795},{"x":188,"y":0.77},{"x":192,"y":0.833},{"x":192,"y":0.808},{"x":192,"y":0.783},{"x":196,"y":0.845},{"x":196,"y":0.82},{"x":196,"y":0.77},{"x":200,"y":0.833},{"x":200,"y":0.783},{"x":204,"y":0.845},{"x":204,"y":0.82},{"x":204,"y":0.795},{"x":208,"y":0.858},{"x":208,"y":0.808},{"x":212,"y":0.87},{"x":212,"y":0.845},{"x":212,"y":0.82},{"x":216,"y":0.858},{"x":216,"y":0.833},{"x":220,"y":0.87},{"x":220,"y":0.82},{"x":224,"y":0.895},{"x":224,"y":0.87},{"x":224,"y":0.845},{"x":228,"y":0.883},{"x":228,"y":0.858},{"x":232,"y":0.895},{"x":232,"y":0.845},{"x":236,"y":0.883},{"x":240,"y":0.895},{"x":240,"y":0.87},{"x":248,"y":0.895},{"x":256,"y":0.895},
{"x":128,"y":0.333},{"x":128,"y":0.308},{"x":132,"y":0.445},{"x":132,"y":0.42},{"x":132,"y":0.37},{"x":132,"y":0.32},{"x":136,"y":0.508},{"x":136,"y":0.483},{"x":136,"y":0.433},{"x":136,"y":0.408},{"x":136,"y":0.358},{"x":140,"y":0.495},{"x":140,"y":0.47},{"x":140,"y":0.42},{"x":140,"y":0.395},{"x":144,"y":0.508},{"x":144,"y":0.458},{"x":144,"y":0.383},{"x":148,"y":0.495},{"x":148,"y":0.42},{"x":152,"y":0.483},{"x":152,"y":0.408},{"x":156,"y":0.47},{"x":156,"y":0.395},
{"x":124,"y":0.195},{"x":124,"y":0.145},{"x":124,"y":0.095},{"x":124,"y":0.07},{"x":128,"y":0.283},{"x":128,"y":0.233},{"x":128,"y":0.183},{"x":128,"y":0.158},{"x":128,"y":0.083},{"x":132,"y":0.245},{"x":132,"y":0.195},{"x":132,"y":0.145},{"x":136,"y":0.233},{"x":136,"y":0.183},{"x":136,"y":0.108},{"x":140,"y":0.27},{"x":140,"y":0.12},
{"x":112,"y":-0.092},{"x":112,"y":-0.142},{"x":112,"y":-0.192},{"x":112,"y":-0.242},{"x":116,"y":-0.03},{"x":116,"y":-0.055},{"x":116,"y":-0.105},{"x":116,"y":-0.18},{"x":116,"y":-0.23},{"x":120,"y":0.058},{"x":120,"y":0.033},{"x":120,"y":-0.017},{"x":120,"y":-0.092},{"x":120,"y":-0.142}
    ],
    "imbh": [
{"x":100,"y":0.969},{"x":107.1,"y":0.991},{"x":115.5,"y":0.995},{"x":121.5,"y":0.986},{"x":126.5,"y":0.993},{"x":129.6,"y":0.967},{"x":135.8,"y":0.997},{"x":140.3,"y":0.993},{"x":145.1,"y":0.991},{"x":146.9,"y":0.997},{"x":150.9,"y":0.98},{"x":154.6,"y":0.986},{"x":159.7,"y":0.997},{"x":164.6,"y":0.995},{"x":166.4,"y":0.969},{"x":170.1,"y":0.993},{"x":175.2,"y":0.995},{"x":176.1,"y":0.978},{"x":182.3,"y":0.997},{"x":179,"y":0.975},{"x":189.4,"y":0.995},{"x":194.4,"y":0.995},{"x":200,"y":0.995},{"x":201.7,"y":0.986},{"x":206.6,"y":0.997},{"x":209.9,"y":0.997},{"x":219.9,"y":0.995},{"x":228.1,"y":0.995},{"x":232.1,"y":0.989},{"x":239.4,"y":0.986},{"x":242,"y":0.995},{"x":248.6,"y":0.995},{"x":253.5,"y":0.995},{"x":259.3,"y":0.995},{"x":264.6,"y":0.995},{"x":264.1,"y":0.98},{"x":268.5,"y":0.955},
{"x":100,"y":0.958},{"x":113.3,"y":0.955},{"x":127,"y":0.927},{"x":131.9,"y":0.94},{"x":135.4,"y":0.966},{"x":139.2,"y":0.953},{"x":138,"y":0.936},{"x":142.9,"y":0.925},{"x":148.4,"y":0.934},{"x":147.3,"y":0.966},{"x":152.4,"y":0.975},{"x":160.2,"y":0.934},{"x":161.3,"y":0.942},{"x":164.1,"y":0.927},{"x":169,"y":0.964},{"x":169.5,"y":0.947},{"x":173,"y":0.975},{"x":177.9,"y":0.975},{"x":181.6,"y":0.94},{"x":182.3,"y":0.922},{"x":182.7,"y":0.964},{"x":193.3,"y":0.94},{"x":201.1,"y":0.94},{"x":211,"y":0.955},{"x":211,"y":0.936},{"x":216.1,"y":0.966},{"x":217,"y":0.94},{"x":227.2,"y":0.964},{"x":228.1,"y":0.933},{"x":231.6,"y":0.961},{"x":237.6,"y":0.945},{"x":238.7,"y":0.953},{"x":244.2,"y":0.945},{"x":245.3,"y":0.975},{"x":250.9,"y":0.958},{"x":254.2,"y":0.958},{"x":258.6,"y":0.964},{"x":261.5,"y":0.933},{"x":265.9,"y":0.929},{"x":257.5,"y":0.953},
{"x":100,"y":0.917},{"x":102.7,"y":0.881},{"x":110,"y":0.901},{"x":112.6,"y":0.877},{"x":118.1,"y":0.905},{"x":123,"y":0.9},{"x":123.7,"y":0.969},{"x":126.1,"y":0.925},{"x":149.5,"y":0.903},{"x":150.9,"y":0.889},{"x":154.2,"y":0.889},{"x":155.3,"y":0.9},{"x":161.3,"y":0.901},{"x":173.4,"y":0.889},{"x":176.8,"y":0.884},{"x":186.7,"y":0.898},{"x":192.7,"y":0.905},{"x":190.5,"y":0.868},{"x":190.7,"y":0.85},{"x":202.2,"y":0.865},{"x":204,"y":0.876},{"x":207.7,"y":0.903},{"x":217.7,"y":0.865},{"x":219.9,"y":0.895},{"x":222.1,"y":0.872},{"x":232.7,"y":0.901},{"x":239.4,"y":0.89},{"x":246.4,"y":0.865},{"x":249.1,"y":0.888},{"x":254.8,"y":0.876},{"x":263.5,"y":0.894},{"x":269.4,"y":0.9},
{"x":100,"y":0.813},{"x":101.3,"y":0.762},{"x":114.2,"y":0.804},{"x":122.1,"y":0.784},{"x":123,"y":0.755},{"x":130.7,"y":0.771},{"x":132.5,"y":0.832},{"x":131.9,"y":0.792},{"x":146,"y":0.83},{"x":148.4,"y":0.843},{"x":147.6,"y":0.814},{"x":157.1,"y":0.799},{"x":162.4,"y":0.766},{"x":163.3,"y":0.755},{"x":165.7,"y":0.815},{"x":166.4,"y":0.83},{"x":169,"y":0.782},{"x":175.2,"y":0.769},{"x":179.4,"y":0.779},{"x":179,"y":0.83},{"x":180.1,"y":0.767},{"x":190.7,"y":0.81},{"x":193.3,"y":0.807},{"x":195.6,"y":0.784},{"x":199.1,"y":0.81},{"x":203.5,"y":0.788},{"x":208.8,"y":0.79},{"x":212.1,"y":0.81},{"x":214.6,"y":0.795},{"x":216.3,"y":0.832},{"x":219.4,"y":0.854},{"x":226.1,"y":0.821},{"x":231.4,"y":0.84},{"x":232.3,"y":0.832},{"x":237.1,"y":0.782},{"x":242.9,"y":0.784},{"x":243.3,"y":0.824},{"x":247.8,"y":0.791},{"x":246,"y":0.799},{"x":253.1,"y":0.804},{"x":253.5,"y":0.831},{"x":259.3,"y":0.837},{"x":260.8,"y":0.793},{"x":261.5,"y":0.799},{"x":267.4,"y":0.832},{"x":266.3,"y":0.81},{"x":273,"y":0.795},
{"x":100.7,"y":0.628},{"x":130.5,"y":0.716},{"x":139.2,"y":0.68},{"x":144.7,"y":0.696},{"x":145.1,"y":0.67},{"x":152.4,"y":0.733},{"x":157.1,"y":0.713},{"x":163,"y":0.72},{"x":165.5,"y":0.656},{"x":167.9,"y":0.639},{"x":164.4,"y":0.619},{"x":155.1,"y":0.644},{"x":177,"y":0.685},{"x":186.9,"y":0.692},{"x":203.7,"y":0.696},{"x":208.8,"y":0.745},{"x":213.3,"y":0.716},{"x":214.1,"y":0.759},{"x":219.4,"y":0.703},{"x":229.4,"y":0.637},{"x":241.3,"y":0.678},{"x":242,"y":0.725},{"x":246,"y":0.661},{"x":247.5,"y":0.639},{"x":268.5,"y":0.703},
{"x":110,"y":0.568},{"x":102,"y":0.529},{"x":107.3,"y":0.493},{"x":117.9,"y":0.537},{"x":116.1,"y":0.441},{"x":124.6,"y":0.485},{"x":129.2,"y":0.411},{"x":135.2,"y":0.46},{"x":148.4,"y":0.468},{"x":152.4,"y":0.54},{"x":155.1,"y":0.428},{"x":166.4,"y":0.475},{"x":170.6,"y":0.475},{"x":185.2,"y":0.475},{"x":193.6,"y":0.617},{"x":193.6,"y":0.537},{"x":199.5,"y":0.64},{"x":207.3,"y":0.441},{"x":186.9,"y":0.389},{"x":184.9,"y":0.37},{"x":219.9,"y":0.419},{"x":215.5,"y":0.56},{"x":221.2,"y":0.56},{"x":226.5,"y":0.573},{"x":238.7,"y":0.499},{"x":256.6,"y":0.597},{"x":259.3,"y":0.471},{"x":266.3,"y":0.429},{"x":256.4,"y":0.36},{"x":260.8,"y":0.337},{"x":107.7,"y":0.337},{"x":108.6,"y":0.309},{"x":121.7,"y":0.309},{"x":127.6,"y":0.315},{"x":133.2,"y":0.343},{"x":141.1,"y":0.343},{"x":146.5,"y":0.359},{"x":179,"y":0.337},
{"x":135.8,"y":0.304},{"x":178.3,"y":0.3},{"x":212.6,"y":0.276},{"x":193,"y":0.244},{"x":232,"y":0.249},{"x":116,"y":0.238},{"x":117.7,"y":0.244},{"x":100.7,"y":0.207},{"x":150.2,"y":0.207},{"x":100.7,"y":0.146},{"x":108.4,"y":0.152},{"x":151,"y":0.146},{"x":163.5,"y":0.152},{"x":101.3,"y":0.122},{"x":176.8,"y":0.082},{"x":112,"y":0.053},{"x":118.6,"y":0.048},{"x":161.7,"y":0.046},{"x":131.6,"y":0.019},{"x":240.5,"y":0.155},{"x":261.7,"y":0.185},{"x":268,"y":0.046},{"x":243,"y":0.013},{"x":100,"y":-0.084},{"x":137,"y":-0.063},{"x":156.4,"y":-0.076},{"x":177.7,"y":-0.121},{"x":114.4,"y":-0.168},{"x":100.5,"y":-0.205},{"x":117.7,"y":-0.214},{"x":198.9,"y":-0.188},{"x":222,"y":-0.297},{"x":100.5,"y":-0.32},
{"x":124.4,"y":-0.42},{"x":133,"y":-0.43},{"x":160,"y":-0.44},{"x":114.4,"y":-0.48},{"x":100.5,"y":-0.49},{"x":218.8,"y":-0.52},{"x":243.8,"y":-0.5},{"x":100.5,"y":-0.59},{"x":191,"y":-0.62},{"x":158.2,"y":-0.7},{"x":233,"y":-0.73},{"x":101.4,"y":-0.79},{"x":173,"y":-0.78},{"x":186.3,"y":-0.76},{"x":253.3,"y":-0.78},{"x":130.5,"y":-0.88},{"x":106.6,"y":-0.93},{"x":134.5,"y":-0.95},{"x":170.8,"y":-0.96},{"x":117.3,"y":-0.99},
{"x":275.2,"y":0.995},{"x":278.5,"y":0.986},{"x":282.5,"y":0.98},{"x":283.6,"y":0.986},{"x":275.8,"y":0.964},{"x":280.7,"y":0.96},{"x":288.5,"y":0.995},{"x":293.5,"y":0.997},{"x":291.3,"y":0.969},{"x":306.1,"y":0.995},{"x":311,"y":0.995},{"x":314.6,"y":0.969},{"x":319.4,"y":0.964},{"x":321.2,"y":0.995},{"x":323.8,"y":0.975},{"x":333.8,"y":0.96},{"x":340.9,"y":0.975},{"x":347.1,"y":0.969},{"x":350.4,"y":0.995},{"x":354.8,"y":0.995},{"x":351.5,"y":0.969},{"x":358.1,"y":0.986},{"x":361,"y":0.96},{"x":370.3,"y":0.995},{"x":372.5,"y":0.969},{"x":380.2,"y":0.989},{"x":388.7,"y":0.997},{"x":394.6,"y":0.964},{"x":401.3,"y":0.991},{"x":405.7,"y":0.997},{"x":406.3,"y":0.978},{"x":401.3,"y":0.955},{"x":414.5,"y":0.975},{"x":421.8,"y":0.997},{"x":423.4,"y":0.969},{"x":430.5,"y":0.997},{"x":435.5,"y":0.991},{"x":437.3,"y":0.975},{"x":442.2,"y":0.991},{"x":446.6,"y":0.986},{"x":451,"y":0.991},{"x":448.8,"y":0.964},
{"x":274.7,"y":0.903},{"x":279.2,"y":0.9},{"x":295.8,"y":0.925},{"x":300.2,"y":0.933},{"x":307.7,"y":0.936},{"x":308.4,"y":0.911},{"x":319.9,"y":0.947},{"x":322.7,"y":0.931},{"x":326.1,"y":0.914},{"x":337.6,"y":0.925},{"x":349.3,"y":0.933},{"x":352.6,"y":0.892},{"x":360.3,"y":0.92},{"x":364.8,"y":0.927},{"x":373.6,"y":0.936},{"x":378.5,"y":0.909},{"x":382.5,"y":0.911},{"x":393.5,"y":0.931},{"x":397.3,"y":0.936},{"x":394.6,"y":0.887},{"x":410.1,"y":0.854},{"x":415.6,"y":0.884},{"x":427.8,"y":0.931},{"x":453.2,"y":0.931},
{"x":277,"y":0.861},{"x":279.6,"y":0.857},{"x":277.4,"y":0.834},{"x":277,"y":0.804},{"x":288.5,"y":0.84},{"x":287.3,"y":0.826},{"x":292.9,"y":0.802},{"x":296.2,"y":0.865},{"x":298.4,"y":0.874},{"x":300.2,"y":0.878},{"x":296.2,"y":0.895},{"x":311,"y":0.884},{"x":305.7,"y":0.832},{"x":312.8,"y":0.848},{"x":314.6,"y":0.807},{"x":321.2,"y":0.807},{"x":323.8,"y":0.851},{"x":327.8,"y":0.821},{"x":327.8,"y":0.806},{"x":329.6,"y":0.857},{"x":334.9,"y":0.874},{"x":339.8,"y":0.881},{"x":340.4,"y":0.837},{"x":346,"y":0.865},{"x":351.1,"y":0.804},{"x":354.8,"y":0.845},{"x":358.1,"y":0.821},{"x":368.1,"y":0.812},{"x":376.9,"y":0.881},{"x":384.7,"y":0.874},{"x":388,"y":0.881},{"x":388,"y":0.851},{"x":396.4,"y":0.829},{"x":384.7,"y":0.804},{"x":388,"y":0.807},{"x":394.6,"y":0.801},{"x":407.5,"y":0.832},{"x":415.6,"y":0.837},{"x":419,"y":0.865},{"x":421.2,"y":0.865},{"x":426.7,"y":0.851},{"x":419,"y":0.788},{"x":436.7,"y":0.815},{"x":445.1,"y":0.818},{"x":449.9,"y":0.829},{"x":452.1,"y":0.815},{"x":448.8,"y":0.793},
{"x":273,"y":0.788},{"x":276.3,"y":0.766},{"x":301.7,"y":0.771},{"x":312.3,"y":0.766},{"x":313.9,"y":0.738},{"x":325.6,"y":0.779},{"x":337.6,"y":0.771},{"x":338.9,"y":0.755},{"x":350.8,"y":0.774},{"x":359.2,"y":0.774},{"x":358.8,"y":0.766},{"x":365.4,"y":0.774},{"x":365.9,"y":0.76},{"x":367.4,"y":0.747},{"x":380.7,"y":0.774},{"x":388.7,"y":0.777},{"x":392.4,"y":0.741},{"x":390.6,"y":0.703},{"x":408.6,"y":0.733},{"x":413.2,"y":0.708},{"x":427.8,"y":0.718},{"x":448.2,"y":0.707},{"x":285.1,"y":0.738},{"x":286.9,"y":0.705},{"x":289.6,"y":0.685},{"x":286.9,"y":0.661},{"x":289.6,"y":0.656},{"x":279.6,"y":0.674},{"x":281.8,"y":0.634},{"x":286.2,"y":0.626},{"x":319.4,"y":0.716},{"x":305,"y":0.689},{"x":322.3,"y":0.676},{"x":325.6,"y":0.656},{"x":328.7,"y":0.63},{"x":342,"y":0.686},{"x":348.2,"y":0.683},{"x":351.5,"y":0.722},{"x":362.6,"y":0.696},{"x":369.9,"y":0.72},{"x":340.9,"y":0.63},{"x":279.6,"y":0.587},{"x":368.5,"y":0.616},{"x":364.1,"y":0.582},{"x":361.9,"y":0.548},{"x":380.7,"y":0.574},{"x":409,"y":0.57},{"x":406.3,"y":0.535},{"x":451.7,"y":0.601},{"x":321,"y":0.527},{"x":305.5,"y":0.505},{"x":305.5,"y":0.485},{"x":331.6,"y":0.507},{"x":319,"y":0.399},{"x":333.1,"y":0.385},{"x":438.4,"y":0.37},
{"x":447.7,"y":0.986},{"x":460.5,"y":0.997},{"x":465,"y":0.991},{"x":465,"y":0.98},{"x":474.3,"y":0.955},{"x":482,"y":0.989},{"x":489.7,"y":0.997},{"x":493.7,"y":0.991},{"x":497.5,"y":0.991},{"x":463.9,"y":0.949},{"x":477.6,"y":0.923},{"x":486.4,"y":0.933},{"x":490.8,"y":0.922},{"x":493.1,"y":0.947},{"x":463.2,"y":0.911},{"x":478.2,"y":0.898},{"x":493.7,"y":0.9},{"x":480.9,"y":0.865},{"x":480.9,"y":0.834},{"x":498.6,"y":0.84},{"x":446.6,"y":0.894},{"x":451.7,"y":0.813},{"x":462.8,"y":0.799},{"x":470.3,"y":0.768},{"x":478.7,"y":0.768},{"x":476,"y":0.741},{"x":471.6,"y":0.639},{"x":494.2,"y":0.579},{"x":475.4,"y":0.515},{"x":473.1,"y":0.502},{"x":472,"y":0.488},{"x":460.5,"y":0.477},{"x":504.1,"y":0.406},
{"x":506.3,"y":0.956},{"x":511.4,"y":0.95},{"x":521.8,"y":0.964},{"x":523.4,"y":0.982},{"x":526.2,"y":0.969},{"x":528,"y":0.95},{"x":542.4,"y":0.993},{"x":541.1,"y":0.972},{"x":545.7,"y":0.918},{"x":560.5,"y":0.969},{"x":563.8,"y":0.982},{"x":559.9,"y":0.923},{"x":568.5,"y":0.944},{"x":578.2,"y":0.939},{"x":584.4,"y":0.953},{"x":587.7,"y":0.947},{"x":582.6,"y":0.923},{"x":585.5,"y":0.929},{"x":593.7,"y":0.966},{"x":595.9,"y":0.95},{"x":590.4,"y":0.909},{"x":588.8,"y":0.887},{"x":590.4,"y":0.87},{"x":594.1,"y":0.87},{"x":597,"y":0.87},{"x":532.9,"y":0.88},{"x":517.8,"y":0.845},{"x":520.7,"y":0.854},{"x":555,"y":0.889},{"x":555,"y":0.878},{"x":561,"y":0.867},{"x":569.8,"y":0.878},{"x":504.1,"y":0.804},{"x":509,"y":0.788},{"x":511.4,"y":0.796},{"x":525.1,"y":0.802},{"x":526.9,"y":0.791},{"x":535.1,"y":0.813},{"x":539.5,"y":0.837},{"x":548.4,"y":0.799},{"x":562.7,"y":0.807},{"x":567.2,"y":0.81},{"x":585.5,"y":0.837},{"x":590.4,"y":0.837},{"x":584.4,"y":0.799},{"x":587.7,"y":0.799},{"x":584.9,"y":0.768},{"x":517.4,"y":0.758},{"x":546.6,"y":0.741},{"x":544.6,"y":0.714},{"x":534,"y":0.689},{"x":524,"y":0.683},{"x":529.1,"y":0.659},{"x":559.9,"y":0.685},{"x":581.1,"y":0.644},{"x":587.7,"y":0.672},{"x":596.4,"y":0.702},{"x":523.4,"y":0.554},{"x":549.9,"y":0.395},{"x":584.9,"y":0.37},
{"x":294.1,"y":0.235},{"x":344.5,"y":0.288},{"x":417.2,"y":0.282},{"x":578.6,"y":0.255},{"x":278.8,"y":0.16},{"x":296.5,"y":0.14},{"x":380.7,"y":0.154},{"x":398.6,"y":0.163},{"x":531.8,"y":0.163},{"x":384,"y":0.042},{"x":587.3,"y":0.078},{"x":597.2,"y":0.083},{"x":300.5,"y":-0.087},{"x":399.8,"y":-0.103},{"x":404.5,"y":-0.12},{"x":315.1,"y":-0.193},{"x":487.1,"y":-0.189},{"x":389.2,"y":-0.248},{"x":362.8,"y":-0.287},{"x":292.5,"y":-0.504},{"x":298.6,"y":-0.623},{"x":360.7,"y":-0.715}
    ]
  },
  "layer": [
    {
      "data": {"name": "broad"},
      "mark": {"type": "point", "filled": true, "opacity": 1, "size": 48, "stroke": "#91bfdb", "strokeWidth": 1},
      "encoding": {
        "x": {
          "field": "x",
          "type": "quantitative",
          "scale": {"domain": [75.4, 623.4], "nice": false, "zero": false},
          "axis": {
            "values": [100, 200, 300, 400, 500, 600],
            "title": "Mₜ(1 + z)",
            "titleFontStyle": "italic",
            "labelPadding": 7,
            "titlePadding": 8
          }
        },
        "y": {
          "field": "y",
          "type": "quantitative",
          "scale": {"domain": [-1.089, 1.093], "nice": false, "zero": false},
          "axis": {
            "values": [-1, -0.75, -0.5, -0.25, 0, 0.25, 0.5, 0.75, 1],
            "format": ".2f",
            "title": "χeff",
            "labelPadding": 6,
            "titlePadding": 18
          }
        },
        "color": {
          "datum": "PyCBC-Broad-Bank",
          "type": "nominal",
          "scale": {"domain": ["PyCBC-Broad-Bank", "PyCBC-IMBH-Bank"], "range": ["#91bfdb", "#d73027"]},
          "legend": {
            "title": null,
            "orient": "bottom-right",
            "offset": 13,
            "padding": 11,
            "fillColor": "rgba(255,255,255,0.85)",
            "strokeColor": "#d9d9d9",
            "cornerRadius": 4,
            "labelFont": "Liberation Serif, DejaVu Serif, serif",
            "labelFontSize": 26,
            "labelColor": "#262626",
            "labelLimit": 400,
            "symbolSize": 45,
            "symbolStrokeWidth": 0,
            "symbolOffset": 16,
            "labelOffset": 36,
            "rowPadding": 12
          }
        },
        "shape": {
          "datum": "PyCBC-Broad-Bank",
          "type": "nominal",
          "scale": {
            "domain": ["PyCBC-Broad-Bank", "PyCBC-IMBH-Bank"],
            "range": ["circle", "M0,-1L0.224,-0.309L0.951,-0.309L0.363,0.118L0.588,0.809L0,0.382L-0.588,0.809L-0.363,0.118L-0.951,-0.309L-0.224,-0.309Z"]
          }
        }
      }
    },
    {
      "data": {"name": "imbh"},
      "mark": {"type": "point", "filled": true, "opacity": 1, "size": 85, "stroke": "#d73027", "strokeWidth": 0.8},
      "encoding": {
        "x": {"field": "x", "type": "quantitative"},
        "y": {"field": "y", "type": "quantitative"},
        "color": {"datum": "PyCBC-IMBH-Bank", "type": "nominal"},
        "shape": {"datum": "PyCBC-IMBH-Bank", "type": "nominal"}
      }
    }
  ]
}
